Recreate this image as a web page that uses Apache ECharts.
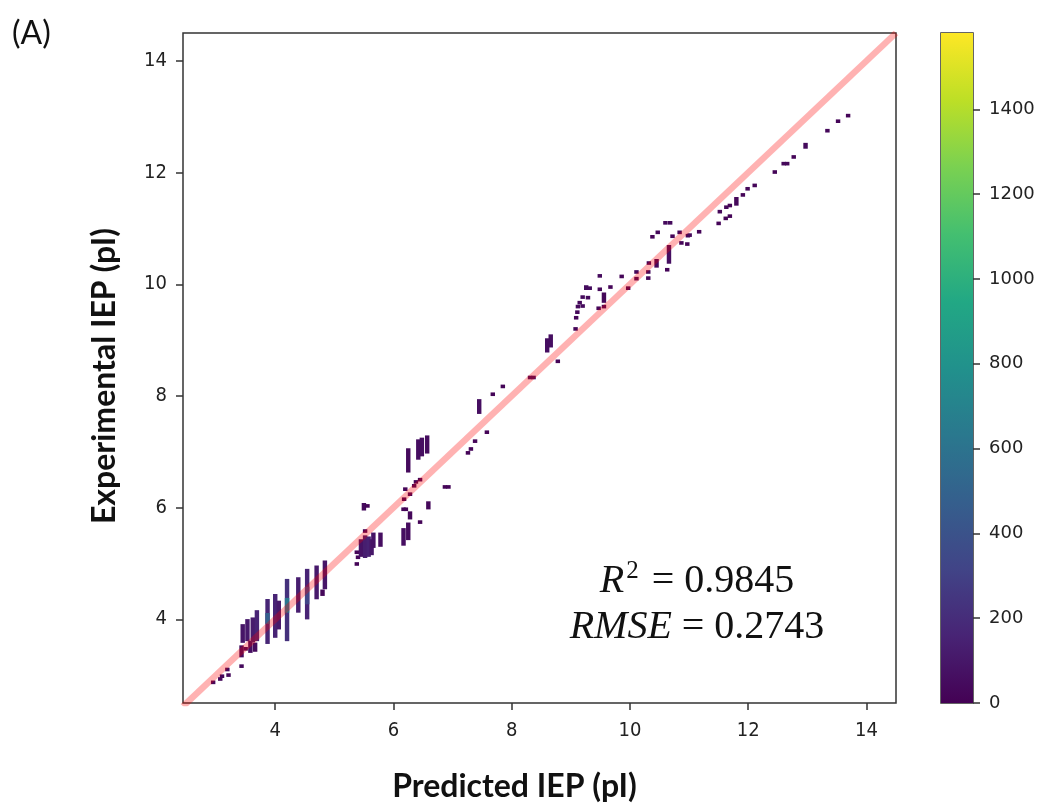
<!DOCTYPE html>
<html lang="en">
<head>
    <meta charset="UTF-8" />
    <title>Predicted vs experimental IEP</title>
    <script src="https://cdn.jsdelivr.net/npm/echarts@6/dist/echarts.min.js"></script>
    <style>
        body { margin: 0; background: #fff; }
        #lienzo { width: 1047px; height: 810px; }
    </style>
</head>
<body>
    <div id="lienzo"></div>
    <script>
        // axis ticks
        const xTicks = [4, 6, 8, 10, 12, 14];
        const yTicks = [4, 6, 8, 10, 12, 14];
        const countTicks = [0, 200, 400, 600, 800, 1000, 1200, 1400];
        const countMax = 1580;

        // 2D histogram cells: [predicted pI, experimental pI from, experimental pI to, count]
        const lowBins = [
            [2.95, 2.87, 2.87, 30], [3.07, 2.93, 2.93, 30], [3.10, 2.98, 2.98, 20],
            [3.19, 3.10, 3.10, 30], [3.21, 3.00, 3.00, 30], [3.43, 3.16, 3.16, 40],
            [3.43, 3.35, 3.50, 50], [3.50, 3.47, 3.47, 40], [3.58, 3.43, 3.58, 60],
            [3.66, 3.45, 3.55, 40], [3.45, 3.61, 3.88, 90], [3.53, 3.64, 3.97, 110],
            [3.62, 3.62, 4.00, 120], [3.69, 3.64, 4.13, 160], [3.87, 3.59, 4.33, 170],
            [3.87, 3.95, 4.08, 480], [4.00, 3.70, 4.42, 160], [4.06, 3.85, 4.30, 110],
            [4.20, 3.64, 4.69, 220], [4.20, 4.15, 4.35, 620], [4.39, 4.15, 4.72, 130],
            [4.54, 4.03, 4.87, 160], [4.54, 4.30, 4.55, 320], [4.70, 4.39, 4.93, 110],
            [4.84, 4.57, 5.02, 90], [4.80, 4.45, 4.50, 30]
        ];
        const midBins = [
            [5.38, 5.20, 5.20, 20], [5.40, 5.11, 5.11, 20], [5.38, 4.99, 4.99, 20],
            [5.45, 5.15, 5.40, 80], [5.52, 5.13, 5.47, 130], [5.58, 5.15, 5.45, 150],
            [5.63, 5.18, 5.40, 100], [5.66, 5.31, 5.52, 80], [5.78, 5.33, 5.52, 60],
            [5.52, 5.58, 5.58, 20], [5.50, 5.98, 6.05, 40], [5.56, 6.03, 6.03, 20],
            [6.17, 5.35, 5.60, 60], [6.25, 5.45, 5.70, 50], [6.28, 5.82, 5.90, 30],
            [6.21, 5.97, 5.97, 20], [6.17, 5.97, 5.97, 20], [6.45, 5.74, 5.74, 20],
            [6.59, 6.00, 6.08, 30], [6.18, 6.15, 6.15, 20], [6.28, 6.24, 6.24, 20],
            [6.20, 6.33, 6.33, 20], [6.35, 6.39, 6.39, 20], [6.38, 6.46, 6.46, 20],
            [6.45, 6.50, 6.50, 20], [6.25, 6.66, 7.03, 40], [6.42, 6.89, 7.19, 60],
            [6.48, 6.95, 7.22, 60], [6.57, 7.00, 7.26, 50], [6.87, 6.37, 6.37, 20],
            [6.93, 6.37, 6.37, 20], [7.26, 6.98, 6.98, 20], [7.31, 7.05, 7.05, 20],
            [7.38, 7.19, 7.19, 20], [7.58, 7.35, 7.35, 20], [7.45, 7.71, 7.91, 60],
            [7.68, 8.03, 8.03, 20], [7.85, 8.17, 8.17, 20]
        ];
        const highBins = [
            [8.31, 8.33, 8.33, 60], [8.37, 8.33, 8.33, 60], [8.78, 8.62, 8.62, 20],
            [8.60, 8.81, 9.00, 60], [8.66, 8.90, 9.07, 60], [9.08, 9.20, 9.20, 20],
            [9.09, 9.40, 9.40, 20], [9.11, 9.50, 9.50, 30], [9.12, 9.60, 9.60, 40],
            [9.20, 9.61, 9.61, 40], [9.15, 9.67, 9.67, 40], [9.20, 9.77, 9.77, 40],
            [9.29, 9.76, 9.76, 40], [9.26, 9.93, 9.95, 50], [9.32, 9.93, 9.93, 50],
            [9.49, 9.91, 9.91, 30], [9.49, 10.15, 10.15, 40], [9.67, 9.95, 9.95, 20],
            [9.56, 9.70, 9.82, 30], [9.56, 9.60, 9.60, 20], [9.47, 9.57, 9.57, 20],
            [9.86, 10.14, 10.14, 20], [9.97, 9.93, 9.93, 20], [10.11, 10.10, 10.10, 30],
            [10.11, 10.22, 10.22, 30], [10.31, 10.11, 10.11, 30], [10.31, 10.22, 10.22, 30],
            [10.32, 10.38, 10.38, 20], [10.45, 10.33, 10.42, 30], [10.47, 10.93, 10.93, 30],
            [10.38, 10.85, 10.85, 20], [10.60, 11.10, 11.10, 40], [10.68, 11.10, 11.10, 40],
            [10.66, 10.40, 10.67, 60], [10.63, 10.26, 10.26, 20], [10.84, 10.93, 10.93, 20],
            [10.72, 10.86, 10.86, 20], [10.98, 10.87, 10.87, 20], [10.97, 10.72, 10.72, 20],
            [10.87, 10.74, 10.74, 20]
        ];
        const topBins = [
            [11.01, 10.88, 10.88, 30], [11.17, 10.94, 10.94, 20], [11.50, 11.09, 11.09, 20],
            [11.52, 11.30, 11.30, 30], [11.63, 11.38, 11.38, 30], [11.69, 11.41, 11.41, 20],
            [11.62, 11.18, 11.18, 20], [11.69, 11.22, 11.22, 20], [11.80, 11.44, 11.53, 30],
            [11.91, 11.60, 11.60, 20], [11.99, 11.71, 11.71, 30], [12.11, 11.77, 11.77, 20],
            [12.45, 12.01, 12.01, 20], [12.60, 12.16, 12.16, 30], [12.66, 12.16, 12.16, 30],
            [12.77, 12.28, 12.28, 20], [12.97, 12.46, 12.50, 40], [13.34, 12.75, 12.75, 30],
            [13.52, 12.92, 12.92, 20], [13.69, 13.02, 13.02, 20]
        ];
        const identityLine = [[2.44, 2.44], [14.5, 14.5]];

        const viridis = ['#440154', '#482475', '#414487', '#355f8d', '#2a788e', '#21918c',
            '#22a884', '#44bf70', '#7ad151', '#bddf26', '#fde725'];

        const BIN_W = 0.075;
        const BIN_H = 0.065;
        const tickFont = 'DejaVu Sans Condensed, DejaVu Sans, sans-serif';
        const plain = (v) => String(v);

        let lienzo = document.getElementById('lienzo');
        let myChart = echarts.init(lienzo, null, { renderer: 'canvas' });

        let gradStops = viridis.map((c, i) => ({ offset: i / (viridis.length - 1), color: c }));

        myChart.setOption({
            animation: false,
            backgroundColor: '#fff',
            grid: [
                { left: 183, top: 33, width: 713, height: 670, show: true, borderColor: '#333', borderWidth: 1.5 },
                { left: 941, top: 33, width: 32, height: 670, show: true, borderColor: '#333', borderWidth: 1.5 }
            ],
            xAxis: [
                {
                    type: 'value', gridIndex: 0, min: 2.44, max: 14.5,
                    name: 'Predicted IEP (pI)', nameLocation: 'middle', nameGap: 68,
                    nameTextStyle: { fontFamily: 'Lato', fontWeight: 'bold', fontSize: 32, color: '#111', padding: [0, 50, 0, 0] },
                    axisLine: { show: false },
                    splitLine: { show: false },
                    axisTick: { show: true, length: 7, lineStyle: { color: '#333', width: 1.5 }, customValues: xTicks },
                    axisLabel: { fontFamily: tickFont, fontSize: 20, color: '#222', margin: 18, customValues: xTicks, formatter: plain }
                },
                {
                    type: 'category', gridIndex: 1, data: ['c'], show: false
                }
            ],
            yAxis: [
                {
                    type: 'value', gridIndex: 0, min: 2.5, max: 14.5,
                    name: 'Experimental IEP (pI)', nameLocation: 'middle', nameGap: 62, nameRotate: 90,
                    nameTextStyle: { fontFamily: 'Lato', fontWeight: 'bold', fontSize: 32, color: '#111', padding: [0, 16, 0, 0] },
                    axisLine: { show: false },
                    splitLine: { show: false },
                    axisTick: { show: true, length: 7, lineStyle: { color: '#333', width: 1.5 }, customValues: yTicks },
                    axisLabel: { fontFamily: tickFont, fontSize: 20, color: '#222', margin: 16, customValues: yTicks, formatter: plain }
                },
                {
                    type: 'value', gridIndex: 1, min: 0, max: countMax, position: 'right',
                    axisLine: { show: false },
                    splitLine: { show: false },
                    axisTick: { show: true, length: 7, lineStyle: { color: '#333', width: 1.5 }, customValues: countTicks },
                    axisLabel: { fontFamily: 'DejaVu Sans, sans-serif', fontSize: 18, color: '#222', margin: 16, customValues: countTicks, formatter: plain }
                }
            ],
            visualMap: {
                show: false, type: 'continuous', seriesIndex: 0, dimension: 3,
                min: 0, max: countMax, inRange: { color: viridis }
            },
            graphic: [
                {
                    type: 'text', x: 12, y: 18,
                    style: { text: '(A)', fontFamily: 'Lato', fontSize: 32, fill: '#111' }
                },
                {
                    type: 'text', x: 697, y: 581, z: 50,
                    style: {
                        text: '{i|R}{s|2}{n| = 0.9845}', align: 'center', verticalAlign: 'middle',
                        rich: {
                            i: { fontFamily: 'Liberation Serif', fontStyle: 'italic', fontSize: 40, fill: '#111' },
                            s: { fontFamily: 'Liberation Serif', fontSize: 25, fill: '#111', padding: [0, 3, 20, 2] },
                            n: { fontFamily: 'Liberation Serif', fontSize: 40, fill: '#111' }
                        }
                    }
                },
                {
                    type: 'text', x: 697, y: 627, z: 50,
                    style: {
                        text: '{i|RMSE}{n| = 0.2743}', align: 'center', verticalAlign: 'middle',
                        rich: {
                            i: { fontFamily: 'Liberation Serif', fontStyle: 'italic', fontSize: 40, fill: '#111' },
                            n: { fontFamily: 'Liberation Serif', fontSize: 40, fill: '#111' }
                        }
                    }
                }
            ],
            series: [
                {
                    type: 'custom', xAxisIndex: 0, yAxisIndex: 0, z: 2,
                    data: lowBins.concat(midBins, highBins, topBins),
                    encode: { x: 0, y: [1, 2] },
                    renderItem: function (params, api) {
                        let x = api.value(0), y0 = api.value(1), y1 = api.value(2);
                        let p0 = api.coord([x - BIN_W / 2, y1 + BIN_H / 2]);
                        let p1 = api.coord([x + BIN_W / 2, y0 - BIN_H / 2]);
                        return {
                            type: 'rect',
                            shape: { x: p0[0], y: p0[1], width: p1[0] - p0[0], height: p1[1] - p0[1] },
                            style: { fill: api.visual('color') }
                        };
                    }
                },
                {
                    type: 'line', xAxisIndex: 0, yAxisIndex: 0, z: 5, clip: true,
                    data: identityLine, symbol: 'none',
                    lineStyle: { color: 'rgba(255,0,0,0.3)', width: 6.5 }
                },
                {
                    type: 'bar', xAxisIndex: 1, yAxisIndex: 1, barWidth: '100%',
                    data: [countMax],
                    itemStyle: { color: new echarts.graphic.LinearGradient(0, 1, 0, 0, gradStops) }
                }
            ]
        });
    </script>
</body>
</html>
